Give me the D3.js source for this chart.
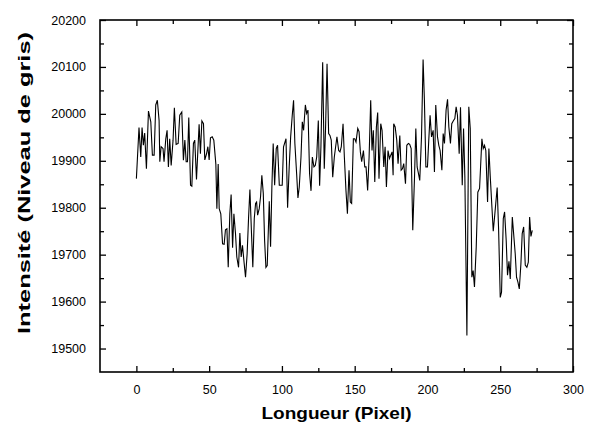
<!DOCTYPE html>
<html><head><meta charset="utf-8">
<script src="https://cdn.jsdelivr.net/npm/d3@7"></script>
<style>
html,body{margin:0;padding:0;background:#fff;}
svg{display:block;font-family:"Liberation Sans",Arial,sans-serif;}
</style></head>
<body>
<svg id="c" width="589" height="424"></svg>
<script>
// Data
const pixelX = [0,1.8,3.0,3.9,4.8,5.7,6.9,8.3,9.9,11.0,12.2,13.3,14.4,15.6,16.1,17.0,18.3,19.0,20.2,21.1,22.0,22.9,23.9,25.2,26.1,27.3,28.7,29.8,31.2,32.3,33.3,34.2,35.1,36.0,37.2,38.1,39.2,40.1,41.3,43.1,44.0,45.0,46.1,47.0,48.2,49.1,50.0,50.9,52.1,53.2,54.6,55.3,56.2,56.9,58.0,59.2,60.3,61.2,62.2,63.1,64.2,65.1,66.1,67.0,68.1,69.0,70.2,71.1,72.0,72.9,74.1,75.0,76.1,77.1,78.0,79.1,80.0,81.0,81.9,82.6,83.3,84.4,85.3,86.2,87.2,88.1,89.0,89.9,91.3,92.2,93.1,94.0,95.0,96.1,97.0,98.2,100.2,101.1,102.8,103.9,105.0,106.0,107.1,108.0,108.9,110.1,111.0,111.9,113.1,114.0,114.9,116.1,117.0,117.9,119.0,120.0,120.9,122.0,122.9,123.9,125.0,125.9,126.8,128.0,129.1,130.0,131.0,132.1,133.0,133.9,134.9,136.0,136.9,137.8,139.0,139.9,140.8,142.0,142.9,144.0,145.0,146.1,147.0,147.9,149.1,150.0,150.9,152.1,153.0,153.9,154.8,156.0,156.9,157.8,158.9,159.9,161.0,161.9,162.8,163.8,164.9,165.8,166.7,167.9,168.8,170.0,170.9,171.8,172.9,173.9,174.8,175.7,176.4,176.8,177.8,178.9,179.8,181.0,181.9,182.8,183.7,184.9,185.8,186.9,187.8,188.8,189.9,191.1,192.0,192.9,193.8,194.7,195.9,197.0,197.9,198.9,200.0,200.9,201.8,202.8,203.9,204.8,205.7,206.9,207.8,208.7,209.9,210.8,211.7,212.8,213.8,214.7,215.8,216.7,217.9,218.8,219.7,220.6,221.8,222.7,223.9,224.8,225.7,227.1,228.4,229.4,230.5,231.4,232.3,233.5,234.6,235.8,237.4,238.3,239.2,240.1,241.3,242.2,243.1,244.3,245.2,246.3,247.9,248.9,250.0,250.9,252.1,253.0,254.1,255.0,256.0,256.9,258.3,259.2,260.3,261.2,262.2,263.1,264.2,265.1,266.1,267.2,268.3,269.3,270.2,271.1,272.0];
const intensity = [19862,19971,19908,19971,19933,19959,19883,20006,19983,19912,19912,20019,20029,19986,19898,19930,19926,19898,19947,19965,19887,19947,19890,19944,20013,19935,19937,19997,20004,19901,19944,19898,19898,19992,19848,19846,19937,19944,19860,19978,19915,19985,19979,19902,19915,19930,19902,19949,19951,19944,19893,19798,19893,19798,19787,19723,19722,19753,19755,19673,19787,19828,19715,19787,19745,19695,19673,19746,19695,19720,19680,19652,19702,19780,19839,19745,19673,19777,19809,19812,19784,19798,19823,19869,19830,19730,19673,19677,19814,19717,19844,19937,19848,19926,19933,19848,19848,19930,19947,19800,19887,19951,19997,20029,19937,19873,19821,19844,19908,19983,19965,20019,20001,20008,19873,19836,19908,19887,19890,19908,19986,19847,19930,20110,19883,19972,20107,19958,19954,19944,19865,19908,19930,19951,19922,19919,19930,19979,19908,19837,19787,19880,19812,19809,19947,19947,19940,19969,19962,19919,19898,19922,19887,19887,19837,19908,20029,19922,19965,19855,19972,20003,19862,19979,19965,19887,19930,19844,19922,19905,19912,19919,19869,19979,19972,19944,19894,19954,19880,19883,19894,19851,19933,19937,19935,19926,19752,19865,19969,19887,19873,19858,19951,20116,20029,19887,19887,19944,19997,19951,19965,19876,20019,19951,19933,19922,19880,19958,19937,20008,20031,19972,19937,19979,19986,19990,20015,19997,19915,20014,19848,19969,19865,19528,20015,19969,19652,19666,19631,19716,19833,19841,19947,19926,19933,19922,19812,19926,19869,19801,19750,19787,19843,19752,19609,19620,19777,19791,19730,19656,19686,19648,19780,19745,19702,19652,19641,19627,19680,19745,19759,19678,19673,19684,19780,19739,19752];
const xTicks = [0,50,100,150,200,250,300];
const xMinor = [25,75,125,175,225,275];
const yTicks = [19500,19600,19700,19800,19900,20000,20100,20200];
const yMinor = [19550,19650,19750,19850,19950,20050,20150];
const xTitle = "Longueur (Pixel)";
const yTitle = "Intensité (Niveau de gris)";

const L = 100, R = 573, T = 20, B = 372;
const svg = d3.select("#c");
const x = d3.scaleLinear().domain([-25, 300]).range([L, R]);
const y = d3.scaleLinear().domain([19450, 20200]).range([B, T]);

function styleAxis(g){
  g.select(".domain").remove();
  g.selectAll(".tick line").attr("stroke","#000").attr("stroke-width",1.3);
  g.selectAll(".tick text").attr("fill","#000").attr("font-size",12.5)
    .attr("font-family","'Liberation Sans',Arial,sans-serif");
}
// bottom
svg.append("g").attr("transform",`translate(0,${B})`)
  .call(d3.axisBottom(x).tickValues(xTicks).tickSize(-6).tickPadding(13).tickFormat(d3.format("d"))).call(styleAxis);
svg.append("g").attr("transform",`translate(0,${B})`)
  .call(d3.axisBottom(x).tickValues(xMinor).tickSize(-4).tickFormat("")).call(styleAxis);
// top
svg.append("g").attr("transform",`translate(0,${T})`)
  .call(d3.axisTop(x).tickValues(xTicks).tickSize(-6).tickFormat("")).call(styleAxis);
svg.append("g").attr("transform",`translate(0,${T})`)
  .call(d3.axisTop(x).tickValues(xMinor).tickSize(-4).tickFormat("")).call(styleAxis);
// left
svg.append("g").attr("transform",`translate(${L},0)`)
  .call(d3.axisLeft(y).tickValues(yTicks).tickSize(-6).tickPadding(14).tickFormat(d3.format("d"))).call(styleAxis);
svg.append("g").attr("transform",`translate(${L},0)`)
  .call(d3.axisLeft(y).tickValues(yMinor).tickSize(-4).tickFormat("")).call(styleAxis);
// right
svg.append("g").attr("transform",`translate(${R},0)`)
  .call(d3.axisRight(y).tickValues(yTicks).tickSize(-6).tickFormat("")).call(styleAxis);
svg.append("g").attr("transform",`translate(${R},0)`)
  .call(d3.axisRight(y).tickValues(yMinor).tickSize(-4).tickFormat("")).call(styleAxis);

// frame
svg.append("rect").attr("x",L).attr("y",T).attr("width",R-L).attr("height",B-T)
  .attr("fill","none").attr("stroke","#000").attr("stroke-width",1.6);

// data line
const data = pixelX.map((d,i)=>({x:d, v:intensity[i]}));
svg.append("path").datum(data)
  .attr("fill","none").attr("stroke","#000").attr("stroke-width",1.1).attr("stroke-linejoin","miter")
  .attr("d", d3.line().x(d=>x(d.x)).y(d=>y(d.v)));

// titles
svg.append("text").attr("x",(L+R)/2).attr("y",419).attr("text-anchor","middle")
  .attr("font-size",17).attr("font-weight","bold").attr("fill","#000")
  .attr("textLength",150).attr("lengthAdjust","spacingAndGlyphs").text(xTitle);
svg.append("text").attr("transform","translate(30,183) rotate(-90)").attr("text-anchor","middle")
  .attr("font-size",16).attr("font-weight","bold").attr("fill","#000")
  .attr("textLength",302).attr("lengthAdjust","spacingAndGlyphs").text(yTitle);
</script>
</body></html>
